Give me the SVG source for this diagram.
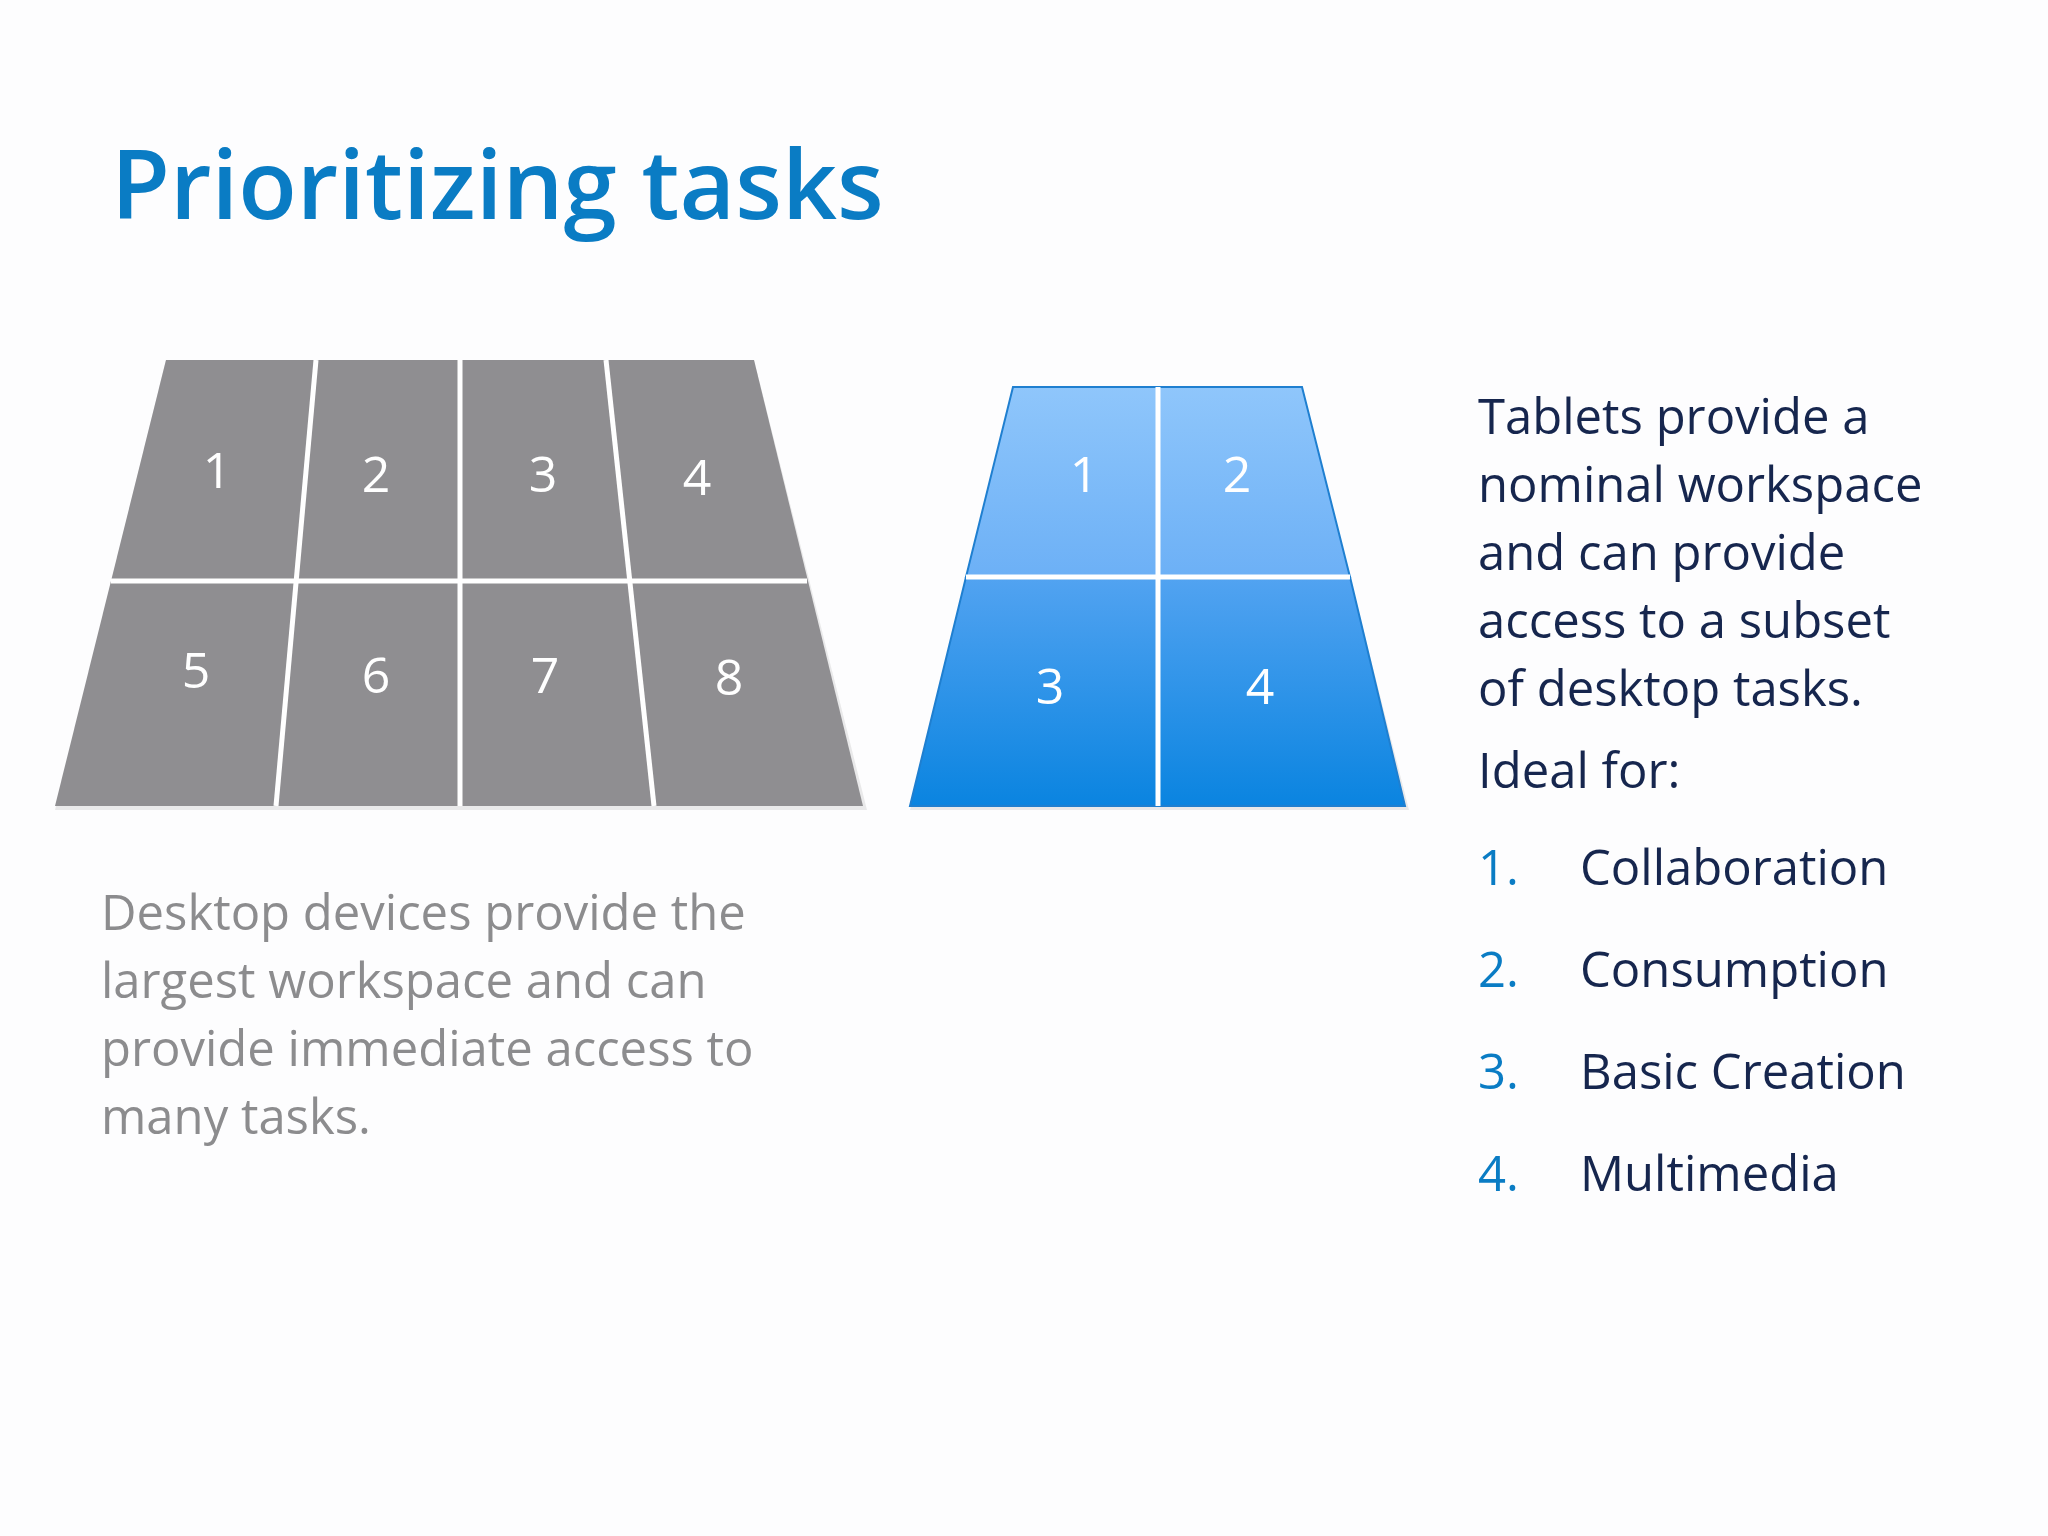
<svg xmlns="http://www.w3.org/2000/svg" width="2048" height="1536" viewBox="0 0 2048 1536">
<style>
text{font-family:"Open Sans","Liberation Sans",sans-serif}
.n{fill:#fff;font-size:50px;text-anchor:middle}
.d{fill:#8c8c8e;font-size:49px}
.r{fill:#16264e;font-size:49px}
.b{fill:#0a7cc4;font-size:49px}
.w{stroke:#fff;stroke-width:5;fill:none}
</style>
<defs>
<linearGradient id="gt" x1="0" y1="0" x2="0" y2="1"><stop offset="0" stop-color="#8fc6fb"/><stop offset="1" stop-color="#6cb0f6"/></linearGradient>
<linearGradient id="gb" x1="0" y1="0" x2="0" y2="1"><stop offset="0" stop-color="#52a3f1"/><stop offset="1" stop-color="#0a84e0"/></linearGradient>
</defs>
<rect width="2048" height="1536" fill="#fdfdfe"/>
<text x="111" y="219" font-size="96" font-weight="600" fill="#0a7cc4" style="font-family:'Open Sans','Liberation Sans',sans-serif">Prioritizing tasks</text>
<g id="desktop">
<polygon points="166,360 754,360 867,810 55,810" fill="#dcdcdc" opacity="0.6"/>
<polygon points="166,360 754,360 863,806 55,806" fill="#8f8e91"/>
<line class="w" x1="111" y1="581" x2="807" y2="581"/>
<line class="w" x1="316" y1="360" x2="276" y2="806"/>
<line class="w" x1="460" y1="360" x2="460" y2="806"/>
<line class="w" x1="606" y1="360" x2="654" y2="806"/>
<text class="n" x="217" y="488">1</text><text class="n" x="376" y="492">2</text>
<text class="n" x="543" y="492">3</text><text class="n" x="697" y="495">4</text>
<text class="n" x="196" y="688">5</text><text class="n" x="376" y="693">6</text>
<text class="n" x="545" y="693">7</text><text class="n" x="729" y="695">8</text>
</g>
<g id="tablet">
<polygon points="1013,387 1302,387 1409,810 910,810" fill="#dcdcdc" opacity="0.6"/>
<polygon points="1013,387 1302,387 1350,577 966,577" fill="url(#gt)" stroke="#1f7fd0" stroke-width="2"/>
<polygon points="966,577 1350,577 1405,806 910,806" fill="url(#gb)" stroke="#1f7fd0" stroke-width="2"/>
<line class="w" x1="966" y1="577" x2="1350" y2="577"/>
<line class="w" x1="1158" y1="387" x2="1158" y2="806"/>
<text class="n" x="1084" y="492">1</text><text class="n" x="1237" y="492">2</text>
<text class="n" x="1050" y="704">3</text><text class="n" x="1260" y="704">4</text>
</g>
<g id="desktop-text">
<text class="d" x="101" y="930">Desktop devices provide the</text>
<text class="d" x="101" y="998">largest workspace and can</text>
<text class="d" x="101" y="1066">provide immediate access to</text>
<text class="d" x="101" y="1134">many tasks.</text>
</g>
<g id="tablet-text">
<text class="r" x="1478" y="434">Tablets provide a</text>
<text class="r" x="1478" y="502">nominal workspace</text>
<text class="r" x="1478" y="570">and can provide</text>
<text class="r" x="1478" y="638">access to a subset</text>
<text class="r" x="1478" y="706">of desktop tasks.</text>
<text class="r" x="1478" y="788">Ideal for:</text>
<text class="b" x="1478" y="885">1.</text><text class="r" x="1580" y="885">Collaboration</text>
<text class="b" x="1478" y="987">2.</text><text class="r" x="1580" y="987">Consumption</text>
<text class="b" x="1478" y="1089">3.</text><text class="r" x="1580" y="1089">Basic Creation</text>
<text class="b" x="1478" y="1191">4.</text><text class="r" x="1580" y="1191">Multimedia</text>
</g>
</svg>
